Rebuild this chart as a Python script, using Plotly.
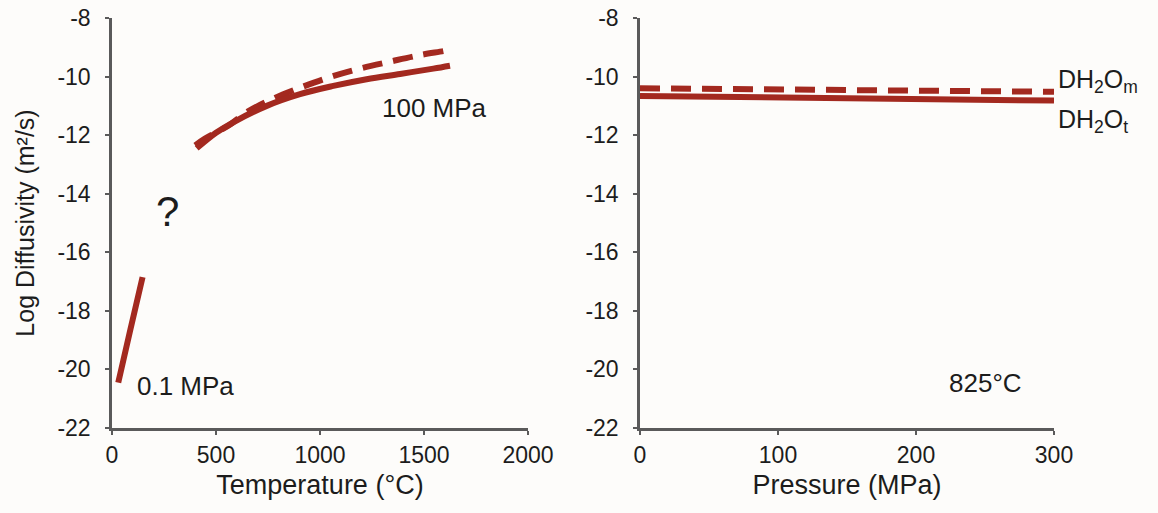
import plotly.graph_objects as go
from plotly.subplots import make_subplots

# Left panel: temperature dependence
t_low = [30, 88, 147]
d_low = [-20.45, -18.65, -16.85]

t_total = [407, 500, 583, 744, 904, 1064, 1224, 1385, 1545, 1625]
d_total_T = [-12.45, -11.92, -11.56, -11.0, -10.6, -10.32, -10.09, -9.91, -9.73, -9.63]
t_mol = [400, 447, 559, 647, 779, 920, 1056, 1196, 1337, 1478, 1601, 1625]
d_mol_T = [-12.35, -12.12, -11.68, -11.22, -10.74, -10.34, -10.0, -9.72, -9.49, -9.27, -9.12, -9.08]

# Right panel: pressure dependence at 825 C
p = [0, 100, 200, 300]
d_total_P = [-10.66, -10.71, -10.77, -10.82]
d_mol_P = [-10.4, -10.44, -10.48, -10.52]

y_ticks = [-8, -10, -12, -14, -16, -18, -20, -22]
y_ticktext = ["-8", "-10", "-12", "-14", "-16", "-18", "-20", "-22"]
x_ticks_T = [0, 500, 1000, 1500, 2000]
x_ticks_P = [0, 100, 200, 300]

RED = "#A3291F"
FONT = "Liberation Sans, Arial, sans-serif"
TXT = "#1c1c1c"
W, H = 1158, 513

fig = make_subplots(rows=1, cols=2)
solid = dict(color=RED, width=6)
dashed = dict(color=RED, width=6, dash="20px,11px")

fig.add_trace(go.Scatter(x=t_low, y=d_low, mode="lines", line=solid, line_shape="spline"), 1, 1)
fig.add_trace(go.Scatter(x=t_mol, y=d_mol_T, mode="lines", line=dashed, line_shape="spline"), 1, 1)
fig.add_trace(go.Scatter(x=t_total, y=d_total_T, mode="lines", line=solid, line_shape="spline"), 1, 1)
fig.add_trace(go.Scatter(x=p, y=d_mol_P, mode="lines", line=dashed), 1, 2)
fig.add_trace(go.Scatter(x=p, y=d_total_P, mode="lines", line=solid), 1, 2)

ytop = 1 - 18 / H
ybot = 1 - 428 / H

axis_common = dict(showline=True, linecolor="#5a5a5a", linewidth=2.5, ticks="outside",
                   ticklen=4, tickwidth=2, tickcolor="#5a5a5a", showgrid=False, zeroline=False,
                   automargin=False, tickfont=dict(family=FONT, size=23, color=TXT))
title_font_x = dict(family=FONT, size=27, color=TXT)

fig.update_xaxes(**axis_common)
fig.update_yaxes(**axis_common)
fig.update_xaxes(domain=[112 / W, 528 / W], range=[0, 2000], tickvals=x_ticks_T, ticklabelstandoff=1,
                 title=dict(text="Temperature (°C)", font=title_font_x, standoff=8),
                 row=1, col=1)
fig.update_xaxes(domain=[640 / W, 1054 / W], range=[0, 300], tickvals=x_ticks_P, ticklabelstandoff=1,
                 title=dict(text="Pressure (MPa)", font=title_font_x, standoff=8),
                 row=1, col=2)
fig.update_yaxes(domain=[ybot, ytop], range=[-22, -8], tickvals=y_ticks, ticktext=y_ticktext,
                 ticklabelstandoff=10,
                 title=dict(text="Log Diffusivity (m²/s)", font=dict(family=FONT, size=25, color=TXT), standoff=16),
                 row=1, col=1)
fig.update_yaxes(domain=[ybot, ytop], range=[-22, -8], tickvals=y_ticks, ticktext=y_ticktext,
                 ticklabelstandoff=10, row=1, col=2)

ann_font = dict(family=FONT, size=26, color=TXT)
fig.add_annotation(x=1290, y=-11.07, xref="x", yref="y", text="100 MPa", showarrow=False,
                   xanchor="left", font=ann_font)
fig.add_annotation(x=269, y=-14.6, xref="x", yref="y", text="?", showarrow=False,
                   font=dict(family=FONT, size=42, color=TXT))
fig.add_annotation(x=110, y=-20.56, xref="x", yref="y", text="0.1 MPa", showarrow=False,
                   xanchor="left", font=ann_font)
fig.add_annotation(x=250, y=-20.45, xref="x2", yref="y2", text="825°C", showarrow=False,
                   font=ann_font)
fig.add_annotation(x=1056 / W, y=-10.15, xref="paper", yref="y2", text="DH<sub>2</sub>O<sub>m</sub>",
                   showarrow=False, xanchor="left", font=dict(family=FONT, size=25, color=TXT))
fig.add_annotation(x=1056 / W, y=-11.5, xref="paper", yref="y2", text="DH<sub>2</sub>O<sub>t</sub>",
                   showarrow=False, xanchor="left", font=dict(family=FONT, size=25, color=TXT))

fig.update_layout(width=W, height=H, showlegend=False, margin=dict(l=0, r=0, t=0, b=0, autoexpand=False),
                  paper_bgcolor="#fdfcfa", plot_bgcolor="#fdfcfa")

fig.write_html("out.html", config={"displayModeBar": False},
               post_script="document.body.style.margin='0';document.body.style.overflow='hidden';")
